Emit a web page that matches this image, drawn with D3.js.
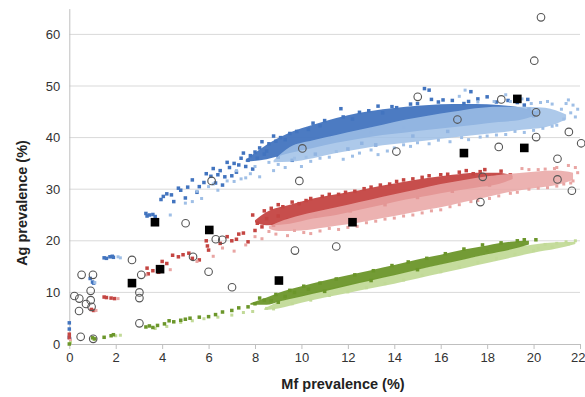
<!DOCTYPE html>
<html><head><meta charset="utf-8">
<script src="https://cdn.jsdelivr.net/npm/d3@7"></script>
<style>body{margin:0;background:#fff}svg{display:block;font-family:"Liberation Sans",Arial,sans-serif}</style>
</head><body><svg id="c" width="585" height="397"></svg>
<script>
const xTicks=[0,2,4,6,8,10,12,14,16,18,20,22];
const yTicks=[0,10,20,30,40,50,60];
// dense cores of each cloud: [x, yLow, yHigh]
const blueDarkBand=[[7.6,35.3,35.7],[8.5,35.8,38.6],[9.5,37,41],[10.5,38,42.5],[11.5,39,43.8],[12.5,39.8,44.8],[13.5,40.5,45.5],[14.5,41,46],[15.5,41.5,46.3],[16.5,42,46.5],[17.5,42.5,46.5],[18.5,43,46.3],[19.5,43.5,45.8],[20.2,44.5,45]];
const blueLightBand=[[8.8,35.2,35.6],[9.5,35.3,38.2],[10.5,36,39.5],[11.5,37,40.5],[12.5,37.8,41.5],[13.5,38.5,42.5],[14.5,39,43.5],[15.5,39.5,44.3],[16.5,40,45],[17.5,40.5,45.7],[18.5,41,46],[19.5,41.5,46],[20.5,42,45.8],[21.4,43.5,44.5]];
const redDarkBand=[[8.0,23.6,24.0],[8.5,23.0,25.6],[9.5,23.3,27],[10.5,24.3,28.2],[11.5,25,29],[12.5,26,29.8],[13.5,27,30.7],[14.5,28,31.5],[15.5,28.8,32.2],[16.5,29.6,32.8],[17.5,30.3,33.2],[18.5,31,33.2],[19.1,32,32.6]];
const redLightBand=[[8.6,22.4,22.8],[9,21.9,23.6],[10,22,25],[11,22.6,26],[12,23.2,27],[13,24,28],[14,24.8,29],[15,25.7,30],[16,26.5,31],[17,27.5,31.8],[18,28.5,32.5],[19,29.5,33],[20,30.2,33.4],[21,30.8,33.6],[21.7,31.8,33.2]];
const greenDarkBand=[[7.8,7.6,7.9],[8.5,7.6,9.0],[9,8.2,9.9],[10,9.2,11.2],[11,10.2,12.3],[12,11.3,13.3],[13,12.3,14.3],[14,13.3,15.3],[15,14.4,16.4],[16,15.4,17.3],[17,16.4,18.3],[18,17.4,19.1],[19,18.3,19.8],[19.8,19.3,20.0]];
const greenLightBand=[[8.4,6.6,6.9],[9,6.9,8.2],[10,8,9.4],[11,9,10.6],[12,9.9,11.6],[13,10.8,12.6],[14,11.7,13.5],[15,12.7,14.5],[16,13.7,15.5],[17,14.7,16.5],[18,15.7,17.5],[19,16.7,18.5],[20,17.7,19.3],[21,18.5,19.7],[21.8,19.4,19.8]];
// scattered points around the cores: [x, y]
const blueDark=[[0,4.1],[0,2.9],[0,1.3],[0.9,12.7],[1.0,12.0],[1.05,11.8],[1.5,16.7],[1.6,16.6],[1.75,16.9],[1.85,17.0],[1.9,16.8],[3.3,25.3],[3.35,24.8],[3.45,25.0],[3.6,25.1],[3.7,24.7],[3.95,28.0],[4.05,28.6],[4.2,29.1],[4.4,28.9],[4.5,27.6],[4.7,30.2],[4.8,29.8],[5.0,28.3],[5.1,30.4],[5.6,30.5],[5.9,33.0],[6.1,32.5],[6.3,31.2],[6.5,33.6],[6.7,32.4],[6.9,34.2],[7.1,35.0],[7.2,33.3],[7.4,36.0],[7.6,34.4],[7.8,36.5],[8.0,37.2],[8.2,38.0],[8.4,36.8],[8.6,38.8],[8.9,39.3],[9.1,40.0],[9.5,40.8],[10.3,41.6],[10.8,42.3],[11.7,45.6],[12.2,43.6],[12.9,45.2],[13.5,44.8],[13.9,46.0],[14.7,46.5],[15.3,49.5],[15.5,49.2],[15.6,47.4],[16.1,47.3],[17.3,48.9],[18.0,47.9],[19.75,47.4],[17.2,47.0],[19.3,46.8],[19.8,45.5],[20.2,45.0],[9.6,35.6],[10.6,36.8],[12.0,37.8],[13.2,38.6],
 [5.3,31.8],[5.5,29.4],[5.8,31.3],[6.2,34.0],[6.4,32.8],[6.6,30.8],[6.8,35.2],[7.0,32.6],[7.3,34.7],[7.5,37.0],[7.7,35.6],[7.9,33.9],[8.1,36.0],[8.3,39.2],[8.5,37.4],[8.8,40.3],[9.0,36.2],[9.3,39.6],[9.8,41.2],[10.0,38.0],[10.5,42.8],[11.0,43.3],[11.3,40.0],[11.8,44.0],[12.5,44.9],[13.0,41.0],[13.3,46.1],[14.1,45.8],[14.4,42.0],[15.0,46.6],[15.9,46.9],[16.5,47.2],[17.0,46.6],[17.6,47.5],[18.4,46.9],[18.9,47.2],[19.6,46.3],[20.0,44.2],[12.6,38.9],[14.8,40.3],[16.3,41.2]];
const blueLight=[[0.05,1.0],[1.1,11.9],[2.1,16.9],[2.2,16.7],[4.35,25.0],[5.0,27.3],[5.3,27.6],[5.7,28.2],[6.0,30.5],[6.4,29.8],[7.1,31.5],[7.4,32.0],[7.8,33.0],[8.2,32.4],[8.8,33.6],[9.3,34.2],[10.0,34.4],[10.4,35.4],[11.2,36.2],[11.8,35.8],[12.5,37.0],[13.3,36.7],[14.0,38.0],[14.7,38.3],[15.5,38.8],[16.4,39.2],[17.2,39.6],[18.0,40.3],[18.8,40.6],[19.6,41.0],[20.4,41.8],[21.0,42.4],[21.3,43.6],[21.6,44.8],[21.7,46.3],[21.5,47.3],[20.8,46.5],[20.3,46.8],[19.5,47.5],[18.8,48.3],[17.05,49.2],[16.8,48.0],[21.9,45.5],
 [5.5,29.6],[6.2,31.0],[6.8,31.6],[7.2,33.6],[7.6,32.2],[8.0,34.4],[8.6,35.2],[9.0,34.8],[9.7,36.0],[10.2,36.2],[10.8,36.0],[11.5,37.3],[12.2,36.4],[13.0,37.6],[13.7,37.4],[14.4,38.6],[15.0,39.0],[15.9,39.5],[16.9,40.0],[17.7,40.1],[18.4,40.5],[19.2,41.2],[20.0,41.4],[20.8,42.2],[21.2,45.5],[21.8,44.0],[20.6,47.0],[19.9,46.6],[19.0,47.0],[18.3,47.0],[17.6,46.9],[21.4,46.6]];
const redDark=[[0,1.9],[0,1.2],[0.95,6.7],[1.05,6.5],[1.5,9.1],[1.6,9.0],[1.8,8.9],[1.95,8.8],[3.35,14.7],[3.4,13.6],[3.6,14.2],[3.85,13.9],[4.0,16.0],[4.2,15.6],[4.45,17.2],[4.7,16.9],[4.9,17.3],[5.15,17.6],[5.3,16.6],[5.6,16.3],[5.9,20.0],[5.95,19.0],[6.0,18.2],[6.5,19.5],[6.8,20.8],[7.0,20.0],[7.3,21.3],[7.7,19.8],[7.9,25.0],[8.1,23.4],[8.3,22.7],[8.5,24.3],[8.7,26.3],[9.0,24.8],[9.2,26.6],[9.6,27.5],[10.2,27.8],[10.9,28.6],[11.6,29.0],[12.3,29.6],[13.0,30.4],[13.8,31.0],[14.4,31.8],[15.2,32.3],[16.0,32.8],[16.8,33.3],[17.4,33.0],[17.9,33.8],[18.3,32.5],[19.0,32.8],
 [8.0,22.0],[8.4,25.8],[8.8,23.0],[9.0,27.0],[9.4,24.0],[9.9,27.2],[10.4,28.2],[10.6,24.8],[11.2,29.0],[11.9,29.4],[12.1,25.8],[12.7,30.1],[13.4,30.8],[13.6,27.0],[14.1,31.5],[14.8,32.0],[15.0,28.4],[15.5,32.6],[16.3,32.9],[16.5,29.6],[17.1,33.6],[17.7,33.4],[18.1,30.8],[18.6,33.5],[7.5,21.5],[7.2,20.3]];
const redLight=[[0.05,0.7],[1.15,6.5],[2.1,8.8],[3.3,13.4],[4.35,14.4],[5.5,16.0],[6.2,17.0],[6.6,18.6],[7.1,18.0],[7.6,19.2],[8.3,20.4],[8.9,21.3],[9.4,21.0],[10.1,21.6],[10.8,21.9],[11.6,22.2],[12.4,22.8],[13.2,23.8],[14.0,24.4],[14.8,25.0],[15.6,25.8],[16.4,26.6],[17.3,27.6],[18.1,28.2],[19.0,29.2],[19.8,30.0],[20.6,30.3],[21.3,31.0],[21.7,31.6],[21.8,34.2],[21.5,34.6],[20.9,34.0],[20.2,33.8],[19.5,34.0],
 [8.0,20.8],[8.6,21.8],[9.7,22.0],[10.4,21.4],[11.2,22.4],[12.0,22.6],[12.8,23.5],[13.6,24.2],[14.4,24.8],[15.2,25.4],[16.0,26.0],[16.8,27.0],[17.6,27.8],[18.5,28.7],[19.3,29.4],[20.2,30.2],[21.0,30.6],[21.6,31.2],[21.0,34.2],[20.5,33.9],[21.9,33.2],[19.8,33.8]];
const greenDark=[[0.0,0.0],[1.0,1.2],[1.1,1.0],[1.5,1.3],[1.8,1.6],[1.9,1.8],[3.3,3.3],[3.45,3.5],[3.6,3.2],[3.8,3.6],[4.1,3.9],[4.3,4.5],[4.5,4.3],[4.8,4.6],[5.0,4.8],[5.2,5.0],[5.6,5.2],[6.0,5.3],[6.3,5.7],[6.6,6.2],[7.0,6.5],[7.3,7.0],[7.7,7.2],[8.0,7.8],[8.4,8.5],[8.7,8.4],[9.3,9.2],[9.7,10.0],[10.3,10.6],[20.1,20.2],
 [8.2,8.9],[8.9,9.6],[9.5,10.4],[10.1,11.2],[10.8,11.8],[11.5,12.6],[12.3,13.4],[13.1,14.2],[13.9,15.2],[14.6,15.9],[15.4,16.6],[16.2,17.5],[17.0,18.4],[17.8,19.2],[18.6,19.6],[19.3,20.0],[19.6,20.2],[9.0,8.1],[11.0,10.2],[13.0,12.3],[15.0,14.4]];
const greenLight=[[0.05,0.3],[1.05,0.9],[2.0,1.6],[2.2,1.7],[3.7,3.0],[4.2,3.4],[4.8,4.2],[5.3,4.5],[5.8,4.9],[6.4,5.2],[7.0,5.6],[7.5,6.1],[7.9,6.3],[8.5,6.9],[20.5,19.3],[21.0,19.5],[21.4,19.8],[21.8,20.0],[20.2,18.6],
 [8.8,6.8],[9.6,7.8],[10.4,8.5],[11.2,9.4],[12.0,10.1],[12.8,10.9],[13.6,11.7],[14.4,12.4],[15.2,13.3],[16.0,14.0],[16.8,14.9],[17.6,15.8],[18.4,16.6],[19.2,17.4],[20.0,18.1],[20.8,18.8],[21.5,19.4],[18.0,18.1],[19.5,19.2]];
// observed data
const observedSquares=[[3.69,23.6],[6.03,22.1],[2.70,11.8],[3.91,14.5],[9.03,12.3],[12.2,23.6],[17.0,37.0],[19.6,38.0],[19.3,47.5]];
const observedCircles=[[0.22,9.3],[0.43,8.8],[0.42,6.4],[0.49,1.4],[0.53,13.4],[0.72,7.75],[0.92,10.3],[0.92,8.5],[0.96,7.2],[1.02,13.4],[1.03,1.0],[2.70,16.3],[3.02,10.0],[3.02,8.9],[3.02,4.0],[3.10,13.4],[5.01,23.4],[5.33,16.9],[6.0,14.0],[6.13,31.6],[6.31,20.3],[6.59,20.2],[7.01,11.0],[9.72,18.1],[9.91,31.6],[10.04,37.9],[11.5,18.9],[14.09,37.3],[15.01,47.9],[16.72,43.5],[17.71,27.5],[17.81,32.4],[18.5,38.2],[18.61,47.4],[20.03,54.9],[20.11,44.9],[20.11,40.1],[20.32,63.3],[21.03,35.9],[21.03,31.9],[21.52,41.1],[21.65,29.7],[22.05,38.9]];

const svg=d3.select("#c");
const x=d3.scaleLinear().domain([0,22]).range([69.3,580]);
const y=d3.scaleLinear().domain([0,65]).range([344,8.6]);

svg.append("g").selectAll("line").data(yTicks.filter(d=>d>0)).join("line")
 .attr("x1",x(0)).attr("x2",x(22)).attr("y1",d=>y(d)).attr("y2",d=>y(d))
 .attr("stroke","#d9d9d9").attr("stroke-width",1);

const ya=svg.append("g").attr("transform",`translate(${x(0)},0)`)
 .call(d3.axisLeft(y).tickValues(yTicks).tickSize(0).tickPadding(9));
ya.select(".domain").attr("stroke","#bfbfbf");
ya.selectAll("text").attr("font-size",13).attr("fill","#333").attr("font-family","Liberation Sans, Arial, sans-serif");
const xa=svg.append("g").attr("transform",`translate(0,${y(0)})`)
 .call(d3.axisBottom(x).tickValues(xTicks).tickSize(5).tickPadding(4).tickSizeOuter(0));
xa.select(".domain").attr("stroke","#bfbfbf");
xa.selectAll(".tick line").attr("stroke","#bfbfbf");
xa.selectAll("text").attr("font-size",13).attr("fill","#333").attr("font-family","Liberation Sans, Arial, sans-serif");
xa.selectAll(".tick").filter(d=>d===22).select("text").attr("text-anchor","end").attr("dx",5);

const area=d3.area().x(d=>x(d[0])).y0(d=>y(d[1])).y1(d=>y(d[2])).curve(d3.curveMonotoneX);
const plot=svg.append("g");
function band(data,color,op){plot.append("path").datum(data).attr("d",area).attr("fill",color).attr("opacity",op);}
function pts(data,color,s){plot.append("g").selectAll("rect").data(data).join("rect")
 .attr("x",d=>x(d[0])-s/2).attr("y",d=>y(d[1])-s/2).attr("width",s).attr("height",s).attr("fill",color);}

const C={bd:"#4274bf",bl:"#9fbfe6",rd:"#c44542",rl:"#e9a5a3",gd:"#6b962a",gl:"#c2da98"};
band(blueDarkBand,C.bd,0.95); pts(blueDark,C.bd,3.5);
band(blueLightBand,C.bl,0.85); pts(blueLight,C.bl,3);
band(redDarkBand,C.rd,0.95); pts(redDark,C.rd,3.5);
band(redLightBand,C.rl,0.85); pts(redLight,C.rl,3);
band(greenLightBand,C.gl,0.95); pts(greenLight,C.gl,3);
band(greenDarkBand,C.gd,0.95); pts(greenDark,C.gd,3.5);

plot.append("g").selectAll("circle").data(observedCircles).join("circle")
 .attr("cx",d=>x(d[0])).attr("cy",d=>y(d[1])).attr("r",3.8)
 .attr("fill","none").attr("stroke","#555").attr("stroke-width",1.1);
plot.append("g").selectAll("rect").data(observedSquares).join("rect")
 .attr("x",d=>x(d[0])-4.3).attr("y",d=>y(d[1])-4.3).attr("width",8.6).attr("height",8.6)
 .attr("fill","#000");

svg.append("text").attr("x",343).attr("y",389).attr("text-anchor","middle")
 .attr("font-size",14.5).attr("font-weight","bold").attr("fill","#222").text("Mf prevalence (%)");
svg.append("text").attr("transform","translate(27,203) rotate(-90)").attr("text-anchor","middle")
 .attr("font-size",14.5).attr("font-weight","bold").attr("fill","#222").text("Ag prevalence (%)");
</script></body></html>
